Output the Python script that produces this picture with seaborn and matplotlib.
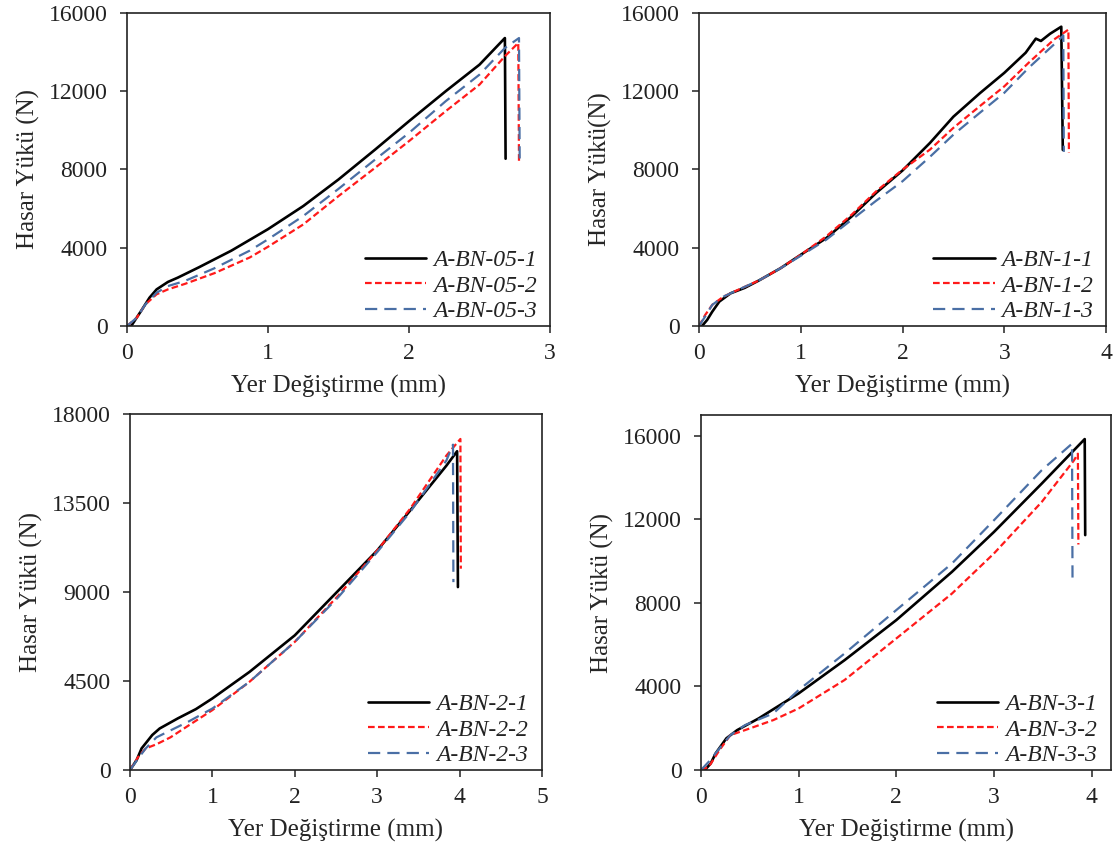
import matplotlib
matplotlib.use("Agg")
import matplotlib.pyplot as plt
import seaborn as sns
import numpy as np

# ---------------- data ----------------
# Panel 1: A-BN-05
p1_x1 = [0.0, 0.03, 0.10, 0.16, 0.21, 0.29, 0.36, 0.51, 0.74, 1.0, 1.25, 1.5, 1.76, 2.0, 2.26, 2.5, 2.68, 2.685]
p1_y1 = [0, 0, 770, 1450, 1870, 2250, 2470, 3000, 3850, 4950, 6130, 7490, 9020, 10470, 12000, 13360, 14720, 8550]
p1_x2 = [0.0, 0.07, 0.13, 0.21, 0.29, 0.41, 0.62, 0.87, 1.0, 1.25, 1.5, 1.76, 2.0, 2.26, 2.5, 2.68, 2.775, 2.78]
p1_y2 = [0, 430, 1100, 1620, 1870, 2150, 2700, 3500, 4050, 5190, 6640, 8090, 9450, 10980, 12340, 13790, 14470, 8430]
p1_x3 = [0.0, 0.07, 0.13, 0.21, 0.29, 0.41, 0.62, 0.87, 1.0, 1.25, 1.5, 1.76, 2.0, 2.26, 2.5, 2.68, 2.78, 2.785]
p1_y3 = [0, 430, 1100, 1700, 2040, 2300, 2950, 3850, 4430, 5620, 7010, 8510, 9870, 11490, 12850, 14210, 14720, 8500]

# Panel 2: A-BN-1
p2_x1 = [0.0, 0.03, 0.08, 0.13, 0.20, 0.31, 0.45, 0.59, 0.80, 1.0, 1.25, 1.5, 1.74, 2.0, 2.27, 2.5, 2.76, 3.0, 3.21, 3.31, 3.36, 3.45, 3.56, 3.575]
p2_y1 = [0, 0, 310, 730, 1250, 1670, 1950, 2330, 2950, 3640, 4490, 5600, 6800, 7950, 9360, 10700, 11900, 12940, 13970, 14690, 14570, 14940, 15300, 9000]
p2_x2 = [0.0, 0.06, 0.13, 0.24, 0.38, 0.59, 0.80, 1.0, 1.25, 1.5, 1.74, 2.0, 2.27, 2.5, 2.76, 3.0, 3.24, 3.49, 3.63, 3.635]
p2_y2 = [0, 560, 1080, 1500, 1840, 2330, 2950, 3640, 4580, 5690, 6880, 7990, 9020, 10130, 11240, 12250, 13460, 14650, 15150, 8850]
p2_x3 = [0.0, 0.06, 0.13, 0.24, 0.38, 0.59, 0.80, 1.0, 1.25, 1.5, 1.74, 2.0, 2.27, 2.5, 2.76, 3.0, 3.24, 3.49, 3.58, 3.585]
p2_y3 = [0, 480, 1080, 1500, 1840, 2330, 2950, 3590, 4410, 5430, 6400, 7400, 8650, 9780, 10900, 11920, 13200, 14400, 14850, 8900]

# Panel 3: A-BN-2
p3_x1 = [0.0, 0.08, 0.14, 0.27, 0.36, 0.58, 0.80, 1.0, 1.45, 2.0, 2.53, 3.0, 3.4, 3.84, 3.97, 3.98]
p3_y1 = [0, 500, 1090, 1770, 2100, 2610, 3080, 3620, 4960, 6810, 9080, 11100, 13120, 15390, 16120, 9250]
p3_x2 = [0.0, 0.10, 0.19, 0.32, 0.49, 0.71, 1.0, 1.45, 2.0, 2.53, 3.0, 3.4, 3.84, 4.01, 4.015]
p3_y2 = [0, 670, 1090, 1300, 1650, 2250, 3030, 4460, 6480, 8830, 11100, 13210, 15900, 16740, 10180]
p3_x3 = [0.0, 0.10, 0.19, 0.32, 0.49, 0.71, 1.0, 1.45, 2.0, 2.53, 3.0, 3.4, 3.84, 3.92, 3.925]
p3_y3 = [0, 590, 1090, 1650, 2000, 2450, 3110, 4460, 6480, 8750, 11020, 13040, 15650, 16450, 9500]

# Panel 4: A-BN-3
p4_x1 = [0.0, 0.04, 0.10, 0.15, 0.26, 0.37, 0.59, 1.0, 1.47, 2.0, 2.57, 3.0, 3.49, 3.93, 3.935]
p4_y1 = [0, 0, 320, 800, 1520, 1910, 2470, 3670, 5260, 7180, 9490, 11400, 13720, 15850, 11250]
p4_x2 = [0.0, 0.08, 0.19, 0.30, 0.45, 0.74, 1.0, 1.47, 2.0, 2.57, 3.0, 3.49, 3.82, 3.86, 3.865]
p4_y2 = [0, 160, 960, 1670, 1910, 2390, 2950, 4310, 6300, 8450, 10370, 12840, 14830, 15150, 10800]
p4_x3 = [0.0, 0.08, 0.19, 0.30, 0.45, 0.74, 1.0, 1.47, 2.0, 2.57, 3.0, 3.49, 3.8, 3.805]
p4_y3 = [0, 400, 1040, 1670, 2150, 2710, 3830, 5580, 7660, 9890, 11960, 14360, 15630, 9090]

labels1 = ["A-BN-05-1", "A-BN-05-2", "A-BN-05-3"]
labels2 = ["A-BN-1-1", "A-BN-1-2", "A-BN-1-3"]
labels3 = ["A-BN-2-1", "A-BN-2-2", "A-BN-2-3"]
labels4 = ["A-BN-3-1", "A-BN-3-2", "A-BN-3-3"]

xlabel = "Yer Değiştirme (mm)"
ylabels = ["Hasar Yükü (N)", "Hasar Yükü(N)", "Hasar Yükü (N)", "Hasar Yükü (N)"]

xlims = [(0, 3), (0, 4), (0, 5), (0, 4.2)]
xticks = [[0, 1, 2, 3], [0, 1, 2, 3, 4], [0, 1, 2, 3, 4, 5], [0, 1, 2, 3, 4]]
ylims = [(0, 16000), (0, 16000), (0, 18000), (0, 17000)]
yticks = [[0, 4000, 8000, 12000, 16000], [0, 4000, 8000, 12000, 16000],
          [0, 4500, 9000, 13500, 18000], [0, 4000, 8000, 12000, 16000]]

# ---------------- styling ----------------
sns.set_style("white")
plt.rcParams['font.family'] = ['Liberation Serif', 'DejaVu Serif']

colors = ["#000000", "#ff1a1a", "#4a6fa5"]
widths = [1.9, 1.6, 1.6]
styles = ["-", (0, (3, 1.5)), (0, (5.5, 3.2))]

fig = plt.figure(figsize=(11.17, 8.5), dpi=100)
positions = [
    [0.1137, 0.6165, 0.3787, 0.3682],
    [0.6258, 0.6165, 0.3644, 0.3682],
    [0.1164, 0.0941, 0.3688, 0.4188],
    [0.6276, 0.0941, 0.3671, 0.4176],
]
legend_anchor = [(0.978, 0.0), (0.978, 0.0), (0.975, 0.0), (0.975, 0.0)]

panels = [
    ([p1_x1, p1_x2, p1_x3], [p1_y1, p1_y2, p1_y3], labels1),
    ([p2_x1, p2_x2, p2_x3], [p2_y1, p2_y2, p2_y3], labels2),
    ([p3_x1, p3_x2, p3_x3], [p3_y1, p3_y2, p3_y3], labels3),
    ([p4_x1, p4_x2, p4_x3], [p4_y1, p4_y2, p4_y3], labels4),
]

for i, (xs, ys, labs) in enumerate(panels):
    ax = fig.add_axes(positions[i])
    for k in range(3):
        sns.lineplot(x=np.array(xs[k]), y=np.array(ys[k]), ax=ax, sort=False,
                     estimator=None, color=colors[k], linewidth=widths[k],
                     label=labs[k])
        ax.lines[-1].set_linestyle(styles[k])
    ax.set_xlim(*xlims[i])
    ax.set_ylim(*ylims[i])
    ax.set_xticks(xticks[i])
    ax.set_yticks(yticks[i])
    ax.set_xticklabels([str(v) for v in xticks[i]])
    ax.set_yticklabels([str(v) for v in yticks[i]])
    ax.set_xlabel(xlabel, fontsize=18, labelpad=8)
    ax.set_ylabel(ylabels[i], fontsize=18, labelpad=6)
    for sp in ax.spines.values():
        sp.set_visible(True)
        sp.set_color("#222222")
        sp.set_linewidth(1.2)
    ax.tick_params(axis='both', which='both', direction='out', length=5, width=1.1,
                   colors="#222222", labelcolor="#222222", labelsize=17,
                   bottom=True, left=True, top=False, right=False)
    ax.tick_params(axis='x', pad=7)
    ax.tick_params(axis='y', pad=9)
    leg = ax.legend(loc='lower right', bbox_to_anchor=legend_anchor[i], frameon=False,
                    handlelength=2.6, handletextpad=0.3, labelspacing=0.18,
                    borderaxespad=0.0, borderpad=0.15,
                    prop={'style': 'italic', 'size': 17})
    for t in leg.get_texts():
        t.set_color("#222222")
    for h, st in zip(leg.get_lines(), styles):
        h.set_linestyle(st)

fig.savefig("out.png", dpi=100)
